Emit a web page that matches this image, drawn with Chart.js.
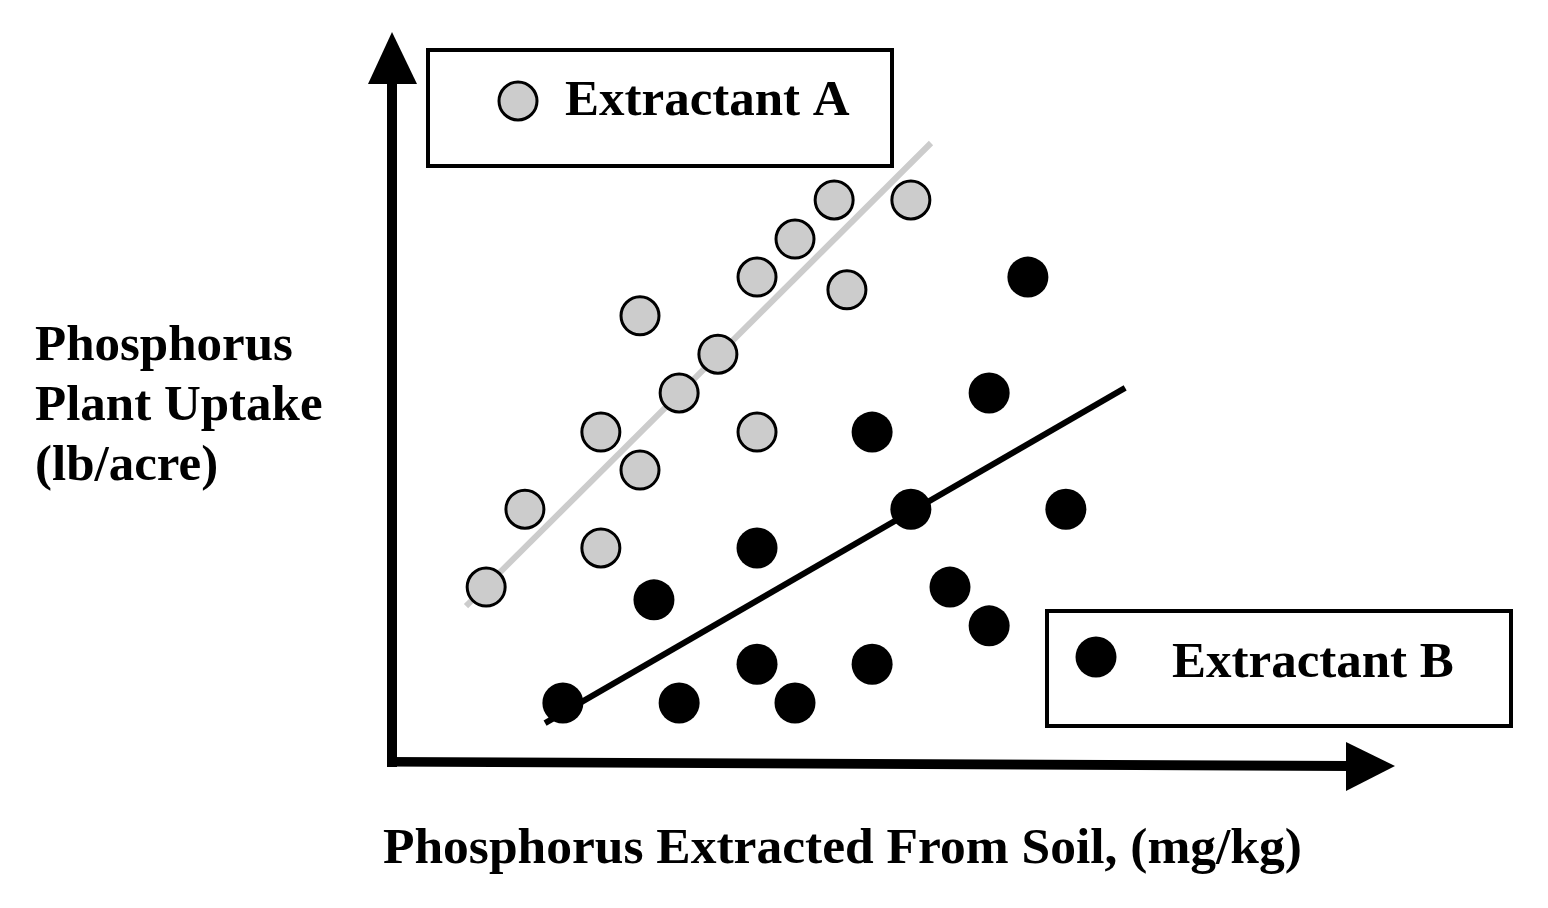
<!DOCTYPE html>
<html lang="en">
<head>
    <meta charset="UTF-8">
    <title>Phosphorus Uptake vs Extracted P</title>
    <style>
        html, body { margin: 0; padding: 0; background: #fff; }
        #chart { display: block; }
    </style>
    <script src="https://cdn.jsdelivr.net/npm/chart.js"></script>
</head>
<body>
<canvas id="chart" width="1548" height="908"></canvas>
<script>
// values (no ticks on the original, so units are arbitrary)
const seriesNames = ["Extractant A", "Extractant B"];
const xTitle = "Phosphorus Extracted From Soil, (mg/kg)";
const yTitleLines = ["Phosphorus", "Plant Uptake", "(lb/acre)"];

const extractantA_x = [2.43, 3.43, 5.39, 5.39, 6.40, 6.40, 7.41, 8.41, 9.42, 9.42, 10.40, 11.41, 11.74, 13.39];
const extractantA_y = [4.54, 6.55, 8.54, 5.55, 11.54, 7.56, 9.55, 10.55, 12.54, 8.54, 13.52, 14.53, 12.21, 14.53];

const extractantB_x = [4.41, 6.76, 7.41, 9.42, 9.42, 10.40, 12.39, 12.39, 13.39, 14.40, 15.41, 15.41, 16.41, 17.39];
const extractantB_y = [1.55, 4.21, 1.55, 5.55, 2.55, 1.55, 8.54, 2.55, 6.55, 4.54, 9.55, 3.54, 12.54, 6.55];

// fitted trend lines, end points
const trendA_x = [1.91, 13.91];
const trendA_y = [4.05, 16.0];
const trendB_x = [3.95, 18.92];
const trendB_y = [1.03, 9.68];

function toPoints(xs, ys) {
    return xs.map((x, i) => ({ x: x, y: ys[i] }));
}

const GREY = "#cccccc";
const FONT = "bold 51px 'Liberation Serif', 'Times New Roman', serif";

// axes with arrows, legend boxes and titles
const decorations = {
    id: "decorations",
    beforeDraw(chart) {
        const ctx = chart.ctx;
        ctx.save();
        ctx.fillStyle = "#fff";
        ctx.fillRect(0, 0, chart.width, chart.height);
        ctx.restore();
    },
    afterDraw(chart) {
        const ctx = chart.ctx;
        ctx.save();
        ctx.fillStyle = "#000";

        // y axis
        ctx.fillRect(387, 80, 10, 687);
        ctx.beginPath();
        ctx.moveTo(368, 84);
        ctx.lineTo(417, 84);
        ctx.lineTo(392, 32);
        ctx.closePath();
        ctx.fill();

        // x axis (slightly sloped like the original)
        ctx.beginPath();
        ctx.moveTo(387, 757);
        ctx.lineTo(1350, 761);
        ctx.lineTo(1350, 771);
        ctx.lineTo(387, 766.5);
        ctx.closePath();
        ctx.fill();
        ctx.beginPath();
        ctx.moveTo(1346, 742);
        ctx.lineTo(1395, 766);
        ctx.lineTo(1346, 791);
        ctx.closePath();
        ctx.fill();

        // legend boxes
        ctx.strokeStyle = "#000";
        ctx.lineWidth = 4;
        ctx.strokeRect(428, 50, 464, 116);
        ctx.strokeRect(1047, 611, 464, 115);

        ctx.beginPath();
        ctx.arc(518, 101, 19, 0, Math.PI * 2);
        ctx.fillStyle = GREY;
        ctx.fill();
        ctx.lineWidth = 3;
        ctx.stroke();

        ctx.beginPath();
        ctx.arc(1096, 657, 20.5, 0, Math.PI * 2);
        ctx.fillStyle = "#000";
        ctx.fill();

        // text
        ctx.font = FONT;
        ctx.fillStyle = "#000";
        ctx.textBaseline = "alphabetic";
        ctx.textAlign = "left";
        ctx.fillText(seriesNames[0], 565, 115);
        ctx.fillText(seriesNames[1], 1172, 677);
        yTitleLines.forEach((line, i) => ctx.fillText(line, 35, 360 + i * 60));
        ctx.font = "bold 51.5px 'Liberation Serif', 'Times New Roman', serif";
        ctx.fillText(xTitle, 383, 863);
        ctx.restore();
    }
};

new Chart(document.getElementById("chart").getContext("2d"), {
    type: "scatter",
    data: {
        datasets: [
            {
                label: seriesNames[0],
                data: toPoints(extractantA_x, extractantA_y),
                pointRadius: 19,
                pointBackgroundColor: GREY,
                pointBorderColor: "#000",
                pointBorderWidth: 3,
                order: 1
            },
            {
                label: seriesNames[1],
                data: toPoints(extractantB_x, extractantB_y),
                pointRadius: 20.5,
                pointBackgroundColor: "#000",
                pointBorderColor: "#000",
                pointBorderWidth: 0,
                order: 1
            },
            {
                type: "line",
                label: "trend A",
                data: toPoints(trendA_x, trendA_y),
                borderColor: GREY,
                borderWidth: 6,
                pointRadius: 0,
                fill: false,
                order: 2
            },
            {
                type: "line",
                label: "trend B",
                data: toPoints(trendB_x, trendB_y),
                borderColor: "#000",
                borderWidth: 6,
                pointRadius: 0,
                fill: false,
                order: 2
            }
        ]
    },
    options: {
        responsive: false,
        animation: false,
        devicePixelRatio: 1,
        layout: { padding: { left: 392, right: 148.5, top: 26.75, bottom: 145 } },
        plugins: {
            legend: { display: false },
            tooltip: { enabled: false }
        },
        scales: {
            x: { type: "linear", min: 0, max: 26, display: false },
            y: { type: "linear", min: 0, max: 19, display: false }
        }
    },
    plugins: [decorations]
});
</script>
</body>
</html>
